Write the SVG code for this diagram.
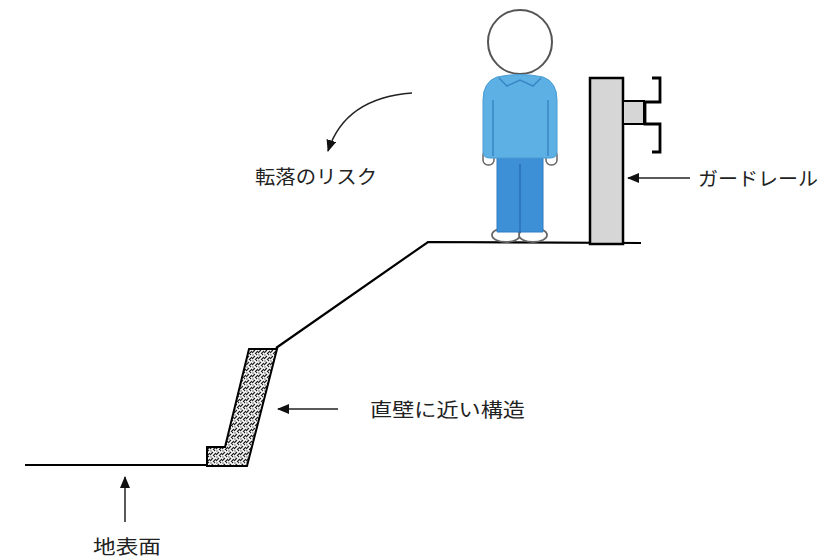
<svg xmlns="http://www.w3.org/2000/svg" width="832" height="558" viewBox="0 0 832 558">
  <style>
    .ln { stroke: #000; stroke-width: 2.2; fill: none; }
    .arw { stroke: #222; stroke-width: 1.5; fill: none; marker-end: url(#head); }
    .lbl { font-family: "Noto Sans CJK JP", "Noto Sans CJK SC", sans-serif; font-size: 19px; fill: #222; }
    .outline { stroke: #555; stroke-width: 2; }
  </style>
  <defs>
    <marker id="head" viewBox="0 0 12 10" refX="11" refY="5" markerWidth="12" markerHeight="10" markerUnits="userSpaceOnUse" orient="auto">
      <path d="M0,0 L12,5 L0,10 Z" fill="#111"/>
    </marker>
    <!-- concrete texture for the retaining wall -->
    <pattern id="concrete" width="6" height="6" patternUnits="userSpaceOnUse">
      <rect width="6" height="6" fill="#fff"/>
      <path d="M0,5 L3,2 M3,6 L6,3 M4,1 L5,0" stroke="#222" stroke-width="1.3"/>
      <circle cx="1" cy="1" r="0.7" fill="#333"/>
    </pattern>
  </defs>

  <rect width="832" height="558" fill="#fff"/>

  <!-- terrain -->
  <g id="terrain">
    <line class="ln" x1="25" y1="465" x2="247" y2="465"/>
    <polyline class="ln" points="276,348 428,242 641,243"/>
  </g>

  <!-- retaining wall -->
  <g id="wall">
    <polygon points="249,349 277,349 247,466 207,466 207,447 225,447" fill="url(#concrete)" stroke="#000" stroke-width="2"/>
  </g>

  <!-- guardrail -->
  <g id="guardrail">
    <rect x="590" y="78" width="33" height="166" fill="#d6d6d6" stroke="#000" stroke-width="2.5"/>
    <rect x="623" y="101" width="21" height="23" fill="#d6d6d6" stroke="#000" stroke-width="2"/>
    <polyline points="652,78 660,78 660,102 645,102 645,124 660,124 660,152 652,152" fill="none" stroke="#000" stroke-width="2.8"/>
  </g>

  <!-- person -->
  <g id="person">
    <circle cx="520" cy="42" r="32" fill="#fff" class="outline"/>
    <!-- hands -->
    <rect x="483" y="150" width="11" height="15" rx="5" fill="#fff" stroke="#666" stroke-width="1.5"/>
    <rect x="546" y="150" width="11" height="15" rx="5" fill="#fff" stroke="#666" stroke-width="1.5"/>
    <!-- shoes -->
    <ellipse cx="506" cy="235" rx="14" ry="7" fill="#fff" stroke="#666" stroke-width="1.8"/>
    <ellipse cx="533" cy="235" rx="14" ry="7" fill="#fff" stroke="#666" stroke-width="1.8"/>
    <!-- trousers -->
    <path d="M497,156 L543,156 L543,232 L497,232 Z" fill="#3d8fd6" stroke="#2f7cc0" stroke-width="1"/>
    <line x1="520" y1="164" x2="520" y2="232" stroke="#2a6fb3" stroke-width="1.5"/>
    <!-- sweater -->
    <path d="M497,77 Q520,72 543,77 Q557,82 557,100 L557,152 Q557,158 550,158 L490,158 Q483,158 483,152 L483,100 Q483,82 497,77 Z" fill="#5cb0e4" stroke="#4a9bd4" stroke-width="1"/>
    <path d="M499,78 L507,86 L520,80 L533,86 L541,78" fill="none" stroke="#3a86c4" stroke-width="1.5"/>
    <line x1="493" y1="100" x2="493" y2="156" stroke="#3a86c4" stroke-width="1.5"/>
    <line x1="548" y1="100" x2="548" y2="156" stroke="#3a86c4" stroke-width="1.5"/>
  </g>

  <!-- pointer arrows -->
  <g id="connectors">
    <path class="arw" d="M412,93 Q345,98 328,151"/>
    <line class="arw" x1="338" y1="409" x2="278" y2="409"/>
    <line class="arw" x1="125" y1="522" x2="125" y2="477"/>
    <line class="arw" x1="690" y1="178" x2="628" y2="178"/>
  </g>

  <!-- labels -->
  <g id="labels">
    <text class="lbl" x="255" y="184" textLength="122" lengthAdjust="spacingAndGlyphs">転落のリスク</text>
    <text class="lbl" x="370" y="417" textLength="155" lengthAdjust="spacingAndGlyphs">直壁に近い構造</text>
    <text class="lbl" x="93" y="554" textLength="68" lengthAdjust="spacingAndGlyphs">地表面</text>
    <text class="lbl" x="698" y="186" textLength="120" lengthAdjust="spacingAndGlyphs">ガードレール</text>
  </g>
</svg>
